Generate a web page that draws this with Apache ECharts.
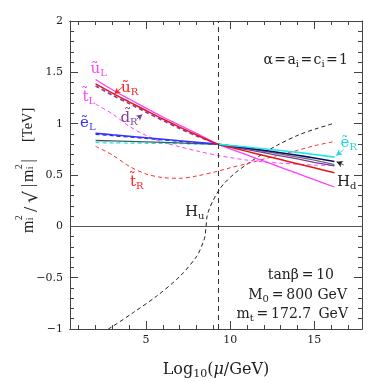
<!DOCTYPE html>
<html><head><meta charset="utf-8">
<script src="https://cdn.jsdelivr.net/npm/echarts@6/dist/echarts.min.js"></script>
<style>html,body{margin:0;padding:0;background:#fff}#c{width:382px;height:382px}</style>
</head><body><div id="c"></div>
<script>
// ---- data ----
const xAll   = [2, 3, 4, 5, 6, 7, 8, 9.27, 10, 11, 12, 13, 14, 15, 16.2];
const xLeft  = [2, 3, 4, 5, 6, 7, 8, 9.27];
const xRight = [9.27, 10, 11, 12, 13, 14, 15, 16.2];

const uL     = [1.43, 1.33, 1.24, 1.152, 1.065, 0.985, 0.905, 0.80, 0.755, 0.695, 0.635, 0.575, 0.515, 0.455, 0.383];
const uR     = [1.387, 1.297, 1.212, 1.128, 1.045, 0.966, 0.89, 0.80, 0.77, 0.73, 0.69, 0.65, 0.61, 0.57, 0.522];
const dRLeft = [1.367, 1.278, 1.195, 1.112, 1.03, 0.953, 0.88, 0.80];
const dRRight= [0.80, 0.777, 0.747, 0.717, 0.686, 0.656, 0.624, 0.588];
const tL     = [1.19, 1.095, 0.975, 0.885, 0.82, 0.775, 0.735, 0.69, 0.67, 0.645, 0.627, 0.615, 0.605, 0.597, 0.592];
const tR     = [0.78, 0.695, 0.585, 0.51, 0.475, 0.468, 0.49, 0.537, 0.57, 0.61, 0.655, 0.698, 0.74, 0.785, 0.826];
const eLBlue = [0.907, 0.892, 0.878, 0.863, 0.848, 0.833, 0.819, 0.80];
const eLDash = [0.897, 0.883, 0.870, 0.856, 0.842, 0.828, 0.815, 0.80];
const eLNavy = [0.80, 0.785, 0.763, 0.741, 0.717, 0.692, 0.666, 0.632];
const eRLeft = [0.815, 0.813, 0.811, 0.809, 0.807, 0.805, 0.803, 0.80];
const eRRight= [0.80, 0.788, 0.772, 0.755, 0.738, 0.72, 0.70, 0.674];
const HdLeft = [0.836, 0.832, 0.828, 0.823, 0.818, 0.812, 0.806, 0.80];
const HdRight= [0.80, 0.782, 0.757, 0.731, 0.704, 0.675, 0.645, 0.600];
const xHu    = [2, 2.86, 4.24, 5.63, 7.02, 8.02, 8.41, 8.5, 8.57, 8.62, 8.7, 8.81, 9.0, 9.21, 9.6, 10.3, 11.0, 11.68, 12.8, 14.07, 15.1, 16.2];
const Hu     = [-1.06, -0.99, -0.84, -0.68, -0.486, -0.29, -0.15, -0.10, 0.0, 0.09, 0.14, 0.19, 0.255, 0.32, 0.41, 0.52, 0.605, 0.68, 0.79, 0.89, 0.95, 1.005];

const xMajor = [5, 10, 15];
const xMinor = [1, 2, 3, 4, 6, 7, 8, 9, 11, 12, 13, 14, 16, 17];
const mirageScale = 9.27;

// ---- helpers ----
const pairs = (xs, ys) => xs.map((x, i) => [x, ys[i]]);
const FONT = 'DejaVu Serif';
const TFONT = 'Liberation Serif';
const AX = '#444';

function line(data, color, dashed, width) {
  return {
    type: 'line', data, showSymbol: false, smooth: 0.3, clip: true, silent: true,
    lineStyle: { color, width: width || 1.3, type: dashed ? [4, 3] : 'solid' },
    z: 3
  };
}
function arrow(series, from, to, color) {
  series.markLine = {
    silent: true, symbol: ['none', 'arrow'], symbolSize: [5, 6], label: { show: false },
    lineStyle: { color, width: 0.9, type: 'solid' },
    data: [[{ coord: from }, { coord: to }]]
  };
  return series;
}

const sHu = line(pairs(xHu, Hu), '#222', true, 1);
sHu.markLine = {
  silent: true, symbol: ['none', 'none'], label: { show: false },
  data: [
    { yAxis: 0, lineStyle: { color: '#555', width: 1, type: 'solid' } },
    { xAxis: mirageScale, lineStyle: { color: '#333', width: 1, type: [5, 4] } }
  ]
};

const series = [
  sHu,
  line(pairs(xAll, tR), '#ff3030', true, 1),
  line(pairs(xAll, tL), '#ff40ff', true, 1),
  line(pairs(xLeft, eRLeft), '#20e0e0', true, 1.2),
  line(pairs(xLeft, HdLeft), '#3f5f5f', false, 1.3),
  arrow(line(pairs(xRight, HdRight), '#6a6a7a', false, 1.3), [16.74, 0.60], [16.33, 0.628], '#222'),
  line(pairs(xLeft, eLDash), '#2a2ad0', true, 1.3),
  line(pairs(xLeft, eLBlue), '#3333ff', false, 1.6),
  arrow(line(pairs(xLeft, dRLeft), '#7f3f9f', true, 1.6), [4.45, 1.045], [4.78, 1.09], '#7f3f9f'),
  line(pairs(xRight, dRRight), '#7f3f9f', false, 1.3),
  line(pairs(xAll, uL), '#ff40ff', false, 1.3),
  arrow(line(pairs(xAll, uR), '#e01818', false, 1.5), [3.62, 1.36], [3.12, 1.29], '#ff2020'),
  line(pairs(xRight, eLNavy), '#0a0a60', false, 1.6),
  arrow(line(pairs(xRight, eRRight), '#20e8e8', false, 1.6), [16.74, 0.745], [16.3, 0.69], '#20d8d8')
];

function xAxisCfg(pos, ticks, len, labels, name) {
  return {
    type: 'value', min: 0.48, max: 17.84, position: pos,
    axisLine: { show: true, onZero: false, lineStyle: { color: AX, width: 1 } },
    axisTick: { show: true, inside: true, length: len, customValues: ticks, lineStyle: { color: AX } },
    axisLabel: labels ? { customValues: ticks, margin: 6, fontFamily: FONT, fontSize: 11, color: '#222' } : { show: false },
    splitLine: { show: false },
    name: name || '', nameLocation: 'middle', nameGap: 31,
    nameTextStyle: {
      fontFamily: FONT, fontSize: 16, color: '#222',
      rich: {
        a: { fontFamily: FONT, fontSize: 16, color: '#222', lineHeight: 20 },
        m: { fontFamily: FONT, fontSize: 16, color: '#222', fontStyle: 'italic', lineHeight: 20 },
        s: { fontFamily: FONT, fontSize: 11, color: '#222', verticalAlign: 'bottom', lineHeight: 11 }
      }
    }
  };
}
function yAxisCfg(pos, labels) {
  return {
    type: 'value', min: -1, max: 2, interval: 0.5, position: pos,
    axisLine: { show: true, onZero: false, lineStyle: { color: AX, width: 1 } },
    axisTick: { show: true, inside: true, length: 8, lineStyle: { color: AX } },
    minorTick: { show: true, splitNumber: 5, length: 4, lineStyle: { color: AX } },
    axisLabel: labels ? { margin: 7, fontFamily: FONT, fontSize: 11, color: '#222',
      formatter: v => String(v).replace('-', '\u2212') } : { show: false },
    splitLine: { show: false }, minorSplitLine: { show: false }
  };
}

const subRich = (col, size) => ({
  a: { fontFamily: FONT, fontSize: size || 15, color: col, lineHeight: 18 },
  s: { fontFamily: FONT, fontSize: 10, color: col, verticalAlign: 'bottom', lineHeight: 10 }
});
function txt(x, y, text, col, align, size) {
  return { type: 'text', x, y, silent: true, z: 10,
    style: { text, fill: col, align: align || 'left', verticalAlign: 'middle', rich: subRich(col, size) } };
}
// text piece in the rotated y-title group (local coords: s along the text, v across it)
function piece(s, v, text, size, family) {
  return { type: 'text', x: s, y: v, silent: true,
    style: { text, fill: '#222', font: size + 'px "' + (family || TFONT) + '"', align: 'left', verticalAlign: 'alphabetic' } };
}
const yTitle = {
  type: 'group', x: 21, y: 233, rotation: Math.PI / 2, silent: true,
  children: [
    piece(0, 0, 'm', 16),
    piece(12.8, -6.5, '2', 10),
    piece(12.8, 4, 'i', 10),
    piece(21, 1.5, '/', 19),
    piece(30, 2, '\u221A', 19, 'DejaVu Serif'),
    piece(46, 0, '|', 16),
    piece(51, 0, 'm', 16),
    piece(63.8, -6.5, '2', 10),
    piece(63.8, 4, 'i', 10),
    piece(70.5, 0, '|', 16),
    piece(91, 0, '[TeV]', 14.5)
  ]
};

const T = '\u2009';
const H = '\u200A';
const graphic = [
  yTitle,
  txt(90.5, 69.5, '{a|ũ}{s|L}', '#ff40ff'),
  txt(121, 88.5, '{a|ũ}{s|R}', '#ff2020'),
  txt(82.5, 97.5, '{a|t\u0303}{s|L}', '#ff40ff'),
  txt(120.5, 118.5, '{a|d\u0303}{s|R}', '#7f3f9f'),
  txt(80, 123.5, '{a|ẽ}{s|L}', '#3333ff'),
  txt(340.5, 143.5, '{a|ẽ}{s|R}', '#20d8d8'),
  txt(337, 182.5, '{a|H}{s|d}', '#222'),
  txt(130, 182.5, '{a|t\u0303}{s|R}', '#ff2020'),
  txt(185, 212.5, '{a|H}{s|u}', '#222'),
  txt(348, 60.5, '{a|α' + H + '=' + H + 'a}{s|i}{a|' + H + '=' + H + 'c}{s|i}{a|' + H + '=' + H + '1}', '#222', 'right', 14),
  txt(334, 275.5, '{a|tanβ' + T + '=' + T + '10}', '#222', 'right', 14),
  txt(347, 295.5, '{a|M}{s|0}{a|' + T + '=' + T + '800 GeV}', '#222', 'right', 14),
  txt(348, 314.5, '{a|m}{s|t}{a|' + T + '=' + T + '172.7' + T + ' GeV}', '#222', 'right', 14)
];

const chart = echarts.init(document.getElementById('c'), null, { renderer: 'canvas' });
chart.setOption({
  animation: false,
  backgroundColor: '#fff',
  grid: { left: 70, right: 20, top: 21, bottom: 53, containLabel: false, outerBoundsMode: 'none' },
  xAxis: [
    xAxisCfg('bottom', xMajor, 8, true, '{a|Log}{s|10}{a|(}{m|μ}{a|/GeV)}'),
    xAxisCfg('bottom', xMinor, 4, false),
    xAxisCfg('top', xMajor, 8, false),
    xAxisCfg('top', xMinor, 4, false)
  ],
  yAxis: [
    yAxisCfg('left', true),
    yAxisCfg('right', false)
  ],
  series,
  graphic
});
</script>
</body></html>
